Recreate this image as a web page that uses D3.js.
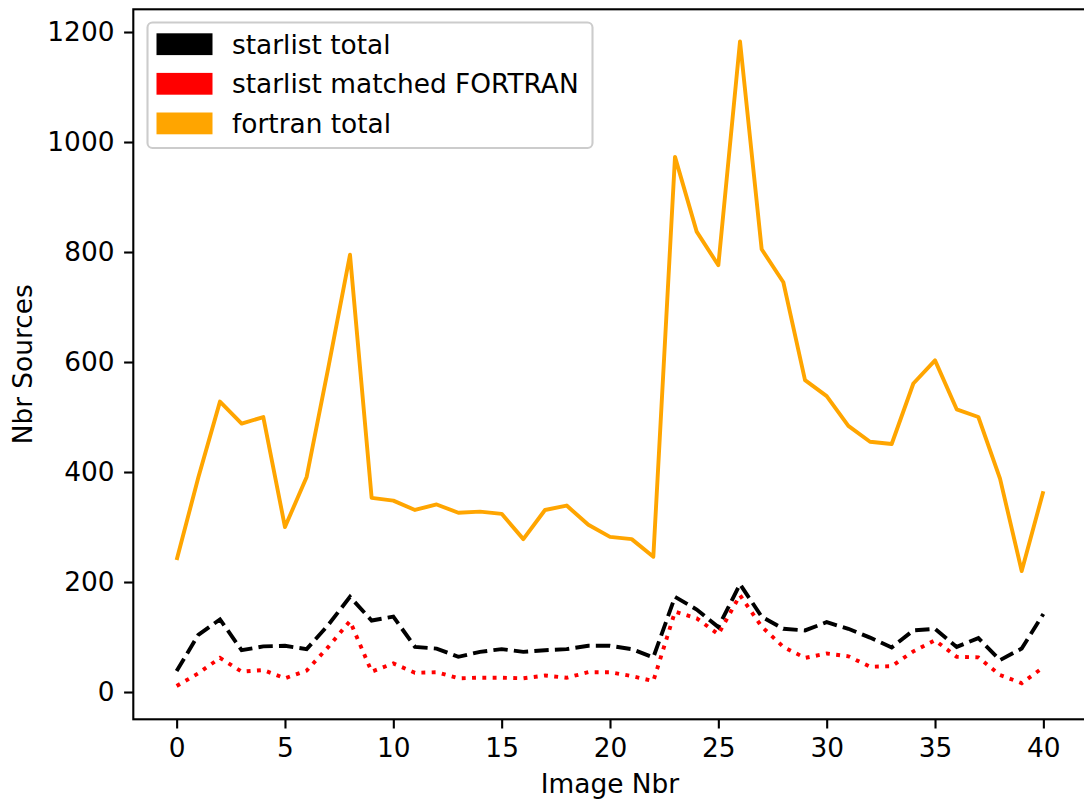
<!DOCTYPE html>
<html>
<head>
<meta charset="utf-8">
<script src="https://cdn.jsdelivr.net/npm/d3@7/dist/d3.min.js"></script>
<style>
  html, body { margin: 0; padding: 0; background: #fff; }
  svg { display: block; font-family: "DejaVu Sans", sans-serif; }
</style>
</head>
<body>
<svg id="chart" width="1084" height="801"></svg>
<script>
// ---- data ----
const imageNbr = d3.range(0, 41);
const starlistTotal = [38, 104, 132, 76, 83, 84, 78, 122, 173, 130, 137, 82, 79, 64, 73, 78, 73, 76, 78, 84,
                       84, 78, 63, 173, 150, 118, 196, 137, 115, 112, 127, 115, 99, 81, 112, 115, 82, 98, 58, 79, 142];
const starlistMatched = [11, 34, 62, 37, 40, 25, 39, 82, 129, 37, 52, 35, 36, 25, 26, 26, 25, 30, 26, 36,
                         36, 29, 20, 146, 134, 105, 176, 119, 82, 62, 70, 65, 46, 47, 74, 94, 64, 63, 31, 16, 45];
const fortranTotal = [240, 390, 528, 488, 500, 300, 391, 590, 795, 353, 348, 331, 341, 326, 328, 324, 278, 331, 339, 304,
                      282, 278, 246, 973, 837, 776, 1183, 805, 745, 567, 538, 484, 455, 451, 561, 603, 514, 500, 388, 220, 365];
const seriesNames = ["starlist total", "starlist matched FORTRAN", "fortran total"];
const seriesColors = ["#000000", "#ff0000", "#ffa500"];
const xTicks = [0, 5, 10, 15, 20, 25, 30, 35, 40];
const yTicks = [0, 200, 400, 600, 800, 1000, 1200];
const xLabel = "Image Nbr";
const yLabel = "Nbr Sources";

// ---- layout ----
const FS = 26.4;
const L = 133.3, R = 1086.7, T = 9.3, B = 719.3;
const svg = d3.select("#chart");
const x = d3.scaleLinear().domain([-2, 42]).range([L, R]);
const y = d3.scaleLinear().domain([-49.6, 1241.3]).range([B, T]);

const lw = 3.9;
const line = vals => d3.line().x((d, i) => x(imageNbr[i])).y(d => y(d))(vals);

const plot = svg.append("g");
plot.append("path").attr("d", line(starlistTotal)).attr("fill", "none")
  .attr("stroke", seriesColors[0]).attr("stroke-width", lw).attr("stroke-dasharray", "14.4,6.2");
plot.append("path").attr("d", line(starlistMatched)).attr("fill", "none")
  .attr("stroke", seriesColors[1]).attr("stroke-width", lw).attr("stroke-dasharray", "3.9,6.4");
plot.append("path").attr("d", line(fortranTotal)).attr("fill", "none")
  .attr("stroke", seriesColors[2]).attr("stroke-width", lw).attr("stroke-linejoin", "round");

// ---- axes ----
const xAxis = svg.append("g").attr("transform", `translate(0,${B})`)
  .call(d3.axisBottom(x).tickValues(xTicks).tickSize(9.2).tickPadding(9.6).tickFormat(d3.format("d")));
const yAxis = svg.append("g").attr("transform", `translate(${L},0)`)
  .call(d3.axisLeft(y).tickValues(yTicks).tickSize(9.2).tickPadding(9.6).tickFormat(d3.format("d")));
[xAxis, yAxis].forEach(g => {
  g.select(".domain").remove();
  g.selectAll(".tick line").attr("stroke", "#000").attr("stroke-width", 2.1);
  g.selectAll(".tick text").attr("fill", "#000").style("font-size", FS + "px")
    .style("font-family", "'DejaVu Sans', sans-serif");
});

// spines
svg.append("rect").attr("x", L).attr("y", T).attr("width", R - L).attr("height", B - T)
  .attr("fill", "none").attr("stroke", "#000").attr("stroke-width", 2.1);

// labels
svg.append("text").attr("x", (L + R) / 2).attr("y", 793).attr("text-anchor", "middle")
  .style("font-size", FS + "px").text(xLabel);
svg.append("text").attr("transform", `translate(31.5,${(T + B) / 2}) rotate(-90)`)
  .attr("text-anchor", "middle").style("font-size", FS + "px").text(yLabel);

// ---- legend ----
const lg = svg.append("g");
lg.append("rect").attr("x", 147.5).attr("y", 22.5).attr("width", 445).attr("height", 125.5)
  .attr("rx", 5).attr("ry", 5).attr("fill", "#fff").attr("fill-opacity", 0.8)
  .attr("stroke", "#cccccc").attr("stroke-width", 2.1);
const rowY = [44.2, 83.8, 123.4];
seriesNames.forEach((name, i) => {
  lg.append("rect").attr("x", 156.5).attr("y", rowY[i] - 10.9).attr("width", 56).attr("height", 21.8)
    .attr("fill", seriesColors[i]);
  lg.append("text").attr("x", 232).attr("y", rowY[i] + 9.5).style("font-size", FS + "px").text(name);
});
</script>
</body>
</html>
